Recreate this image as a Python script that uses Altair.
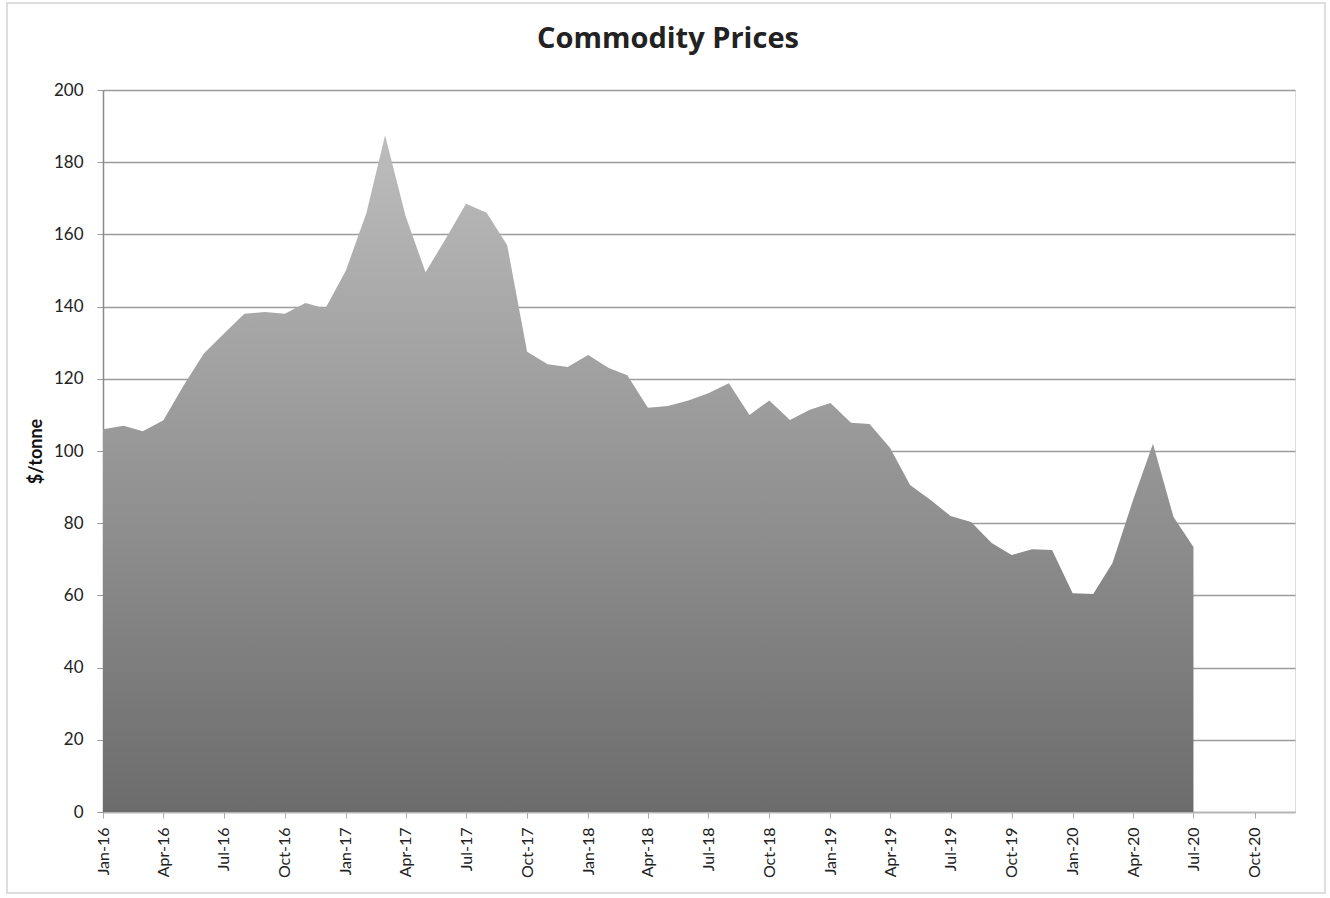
import altair as alt
import pandas as pd

months = [
    "2016-01-01", "2016-02-01", "2016-03-01", "2016-04-01", "2016-05-01", "2016-06-01",
    "2016-07-01", "2016-08-01", "2016-09-01", "2016-10-01", "2016-11-01", "2016-12-01",
    "2017-01-01", "2017-02-01", "2017-03-01", "2017-04-01", "2017-05-01", "2017-06-01",
    "2017-07-01", "2017-08-01", "2017-09-01", "2017-10-01", "2017-11-01", "2017-12-01",
    "2018-01-01", "2018-02-01", "2018-03-01", "2018-04-01", "2018-05-01", "2018-06-01",
    "2018-07-01", "2018-08-01", "2018-09-01", "2018-10-01", "2018-11-01", "2018-12-01",
    "2019-01-01", "2019-02-01", "2019-03-01", "2019-04-01", "2019-05-01", "2019-06-01",
    "2019-07-01", "2019-08-01", "2019-09-01", "2019-10-01", "2019-11-01", "2019-12-01",
    "2020-01-01", "2020-02-01", "2020-03-01", "2020-04-01", "2020-05-01", "2020-06-01",
    "2020-07-01",
]
prices = [
    106, 107, 105.5, 108.5, 118, 127, 132.5, 138, 138.5, 138, 141, 139.5,
    150, 166, 187.5, 165, 149.5, 159, 168.5, 166, 157, 127.5, 124, 123.3,
    126.6, 123, 121, 112, 112.5, 114, 116, 118.8, 110, 114, 108.6, 111.4,
    113.3, 107.8, 107.5, 100.8, 90.6, 86.4, 82, 80.3, 74.5, 71.2, 72.8, 72.6,
    60.6, 60.4, 69, 86.4, 102, 81.7, 73.4,
]
tick_years = [2016, 2017, 2018, 2019, 2020]
tick_months = [1, 4, 7, 10]

df = pd.DataFrame({"date": months, "price": prices})

tick_values = [alt.DateTime(year=y, month=m, date=1, utc=True) for y in tick_years for m in tick_months]

gradient = alt.Gradient(
    gradient="linear",
    stops=[alt.GradientStop(color="#bdbdbd", offset=0), alt.GradientStop(color="#6c6c6c", offset=1)],
    x1=1, x2=1, y1=0, y2=1,
)

area = alt.Chart(df).mark_area(color=gradient, interpolate="linear").encode(
    x=alt.X(
        "date:T",
        scale=alt.Scale(type="utc", domain=[alt.DateTime(year=2016, month=1, date=1, utc=True),
                                            alt.DateTime(year=2020, month=12, date=1, utc=True)]),
        axis=alt.Axis(
            title=None, values=tick_values, format="%b-%y", labelAngle=270,
            labelAlign="right", labelBaseline="middle", labelFontSize=16, labelFont="Lato",
            labelColor="#222222", labelPadding=9, tickSize=6, tickColor="#aaaaaa",
            domainColor="#b5b5b5", domainWidth=1.5, grid=False, labelOverlap=False,
        ),
    ),
    y=alt.Y(
        "price:Q",
        scale=alt.Scale(domain=[0, 200], nice=False),
        axis=alt.Axis(
            title="$/tonne", titleFont="Lato", titleFontSize=18, titleFontWeight="bold",
            titleColor="#111111", titlePadding=8,
            values=list(range(0, 201, 20)), labelFontSize=17, labelFont="Lato",
            labelColor="#222222", labelPadding=14, tickSize=6, tickColor="#999999",
            domainColor="#8a8a8a", domainWidth=1.5,
            grid=True, gridColor="#9c9c9c", gridWidth=1.5,
        ),
    ),
)

frame = alt.Chart(alt.Data(values=[{}])).mark_rect(
    filled=False, stroke="#d4d4d4", strokeWidth=1.5, clip=False
).encode(
    x=alt.value(-96), x2=alt.value(1222), y=alt.value(-87), y2=alt.value(803)
)

chart = alt.layer(area, frame).properties(
    width=1192,
    height=722,
    padding={"left": 103, "top": 90, "right": 35, "bottom": 86},
    autosize=alt.AutoSizeParams(type="none"),
    title=alt.TitleParams(
        text="Commodity Prices", font="Open Sans", fontSize=29, fontWeight="bold",
        color="#222222", anchor="middle", offset=-52, dx=-31,
    ),
).configure_view(stroke=None).configure(background="white")

chart.save("out.html", embed_options={"renderer": "svg", "actions": False})
